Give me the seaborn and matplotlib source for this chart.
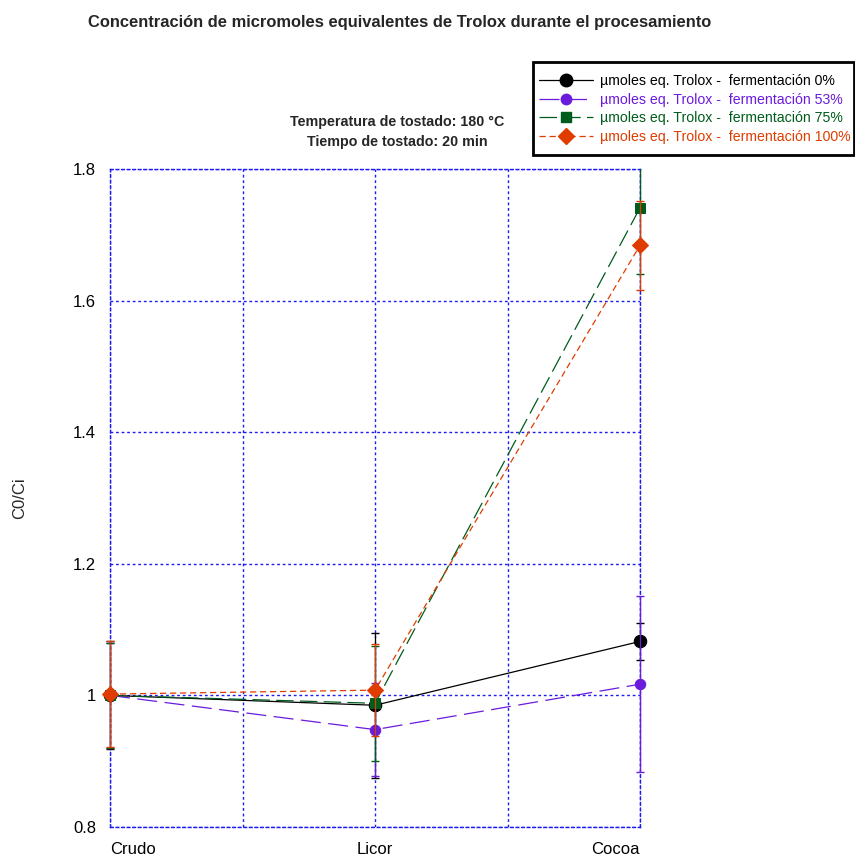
import matplotlib
matplotlib.use('Agg')
import matplotlib.pyplot as plt
import seaborn as sns
import pandas as pd
from matplotlib.lines import Line2D
from matplotlib.patches import Rectangle
from matplotlib.transforms import Bbox, TransformedBbox

# Process stages and measured C0/Ci values per fermentation level
stages = ["Crudo", "Licor", "Cocoa"]
series = ["µmoles eq. Trolox -  fermentación 0%",
          "µmoles eq. Trolox -  fermentación 53%",
          "µmoles eq. Trolox -  fermentación 75%",
          "µmoles eq. Trolox -  fermentación 100%"]
ferm_0 = [1.000, 0.985, 1.082]
ferm_53 = [1.000, 0.948, 1.017]
ferm_75 = [1.000, 0.988, 1.741]
ferm_100 = [1.002, 1.008, 1.684]
err_0 = [0.082, 0.11, 0.028]
err_53 = [0.08, 0.071, 0.134]
err_75 = [0.08, 0.087, 0.10]
err_100 = [0.08, 0.07, 0.068]

colors = ["#000000", "#6a1bdc", "#005c1c", "#e03c00"]
markers = ["o", "o", "s", "D"]
msizes = [9, 7.5, 7.5, 8]
dashes = ["", (16, 6), (14, 5), (5, 3)]

values = [ferm_0, ferm_53, ferm_75, ferm_100]
errors = [err_0, err_53, err_75, err_100]

rows = []
for name, vals, errs in zip(series, values, errors):
    for i, (st, v, e) in enumerate(zip(stages, vals, errs)):
        rows.append({"Serie": name, "Etapa": st, "pos": i, "C0/Ci": v, "err": e})
df = pd.DataFrame(rows)

sns.set_theme(style="white")
plt.rcParams['font.family'] = ['Liberation Sans', 'DejaVu Sans']

fig = plt.figure(figsize=(8.55, 8.57), dpi=100)
ax = fig.add_axes([110 / 855, 30 / 857, 530 / 855, 658 / 857])

# clip error bars only vertically (x = 0 and x = 2 lie on the frame)
clip = TransformedBbox(Bbox([[-0.05, 0], [1.05, 1]]), ax.transAxes)

for k, name in enumerate(series):
    sub = df[df["Serie"] == name]
    eb = ax.errorbar(sub["pos"], sub["C0/Ci"], yerr=sub["err"], fmt="none",
                     ecolor=colors[k], elinewidth=0.9, capsize=3, capthick=1,
                     zorder=3 + k)
    for art in eb.lines[1] + eb.lines[2]:
        art.set_clip_box(clip)
    sns.lineplot(data=sub, x="pos", y="C0/Ci", ax=ax, color=colors[k],
                 marker=markers[k], markersize=msizes[k], markeredgecolor=colors[k],
                 linewidth=0.9, dashes=False, legend=False, zorder=4 + k, clip_on=False)
    if dashes[k]:
        ax.lines[-1].set_dashes(dashes[k])

ax.set_xlim(0, 2)
ax.set_ylim(0.8, 1.8)
ax.set_xticks([0, 1, 2])
ax.set_xticklabels(stages)
for lab, ha in zip(ax.get_xticklabels(), ["left", "center", "right"]):
    lab.set_ha(ha)
ax.set_xticks([0.5, 1.5], minor=True)
ax.set_yticks([0.8, 1.0, 1.2, 1.4, 1.6, 1.8])
ax.set_yticklabels(["0.8", "1", "1.2", "1.4", "1.6", "1.8"])
ax.tick_params(axis="both", which="both", length=0, labelsize=12, colors="black")
ax.tick_params(axis="y", pad=10)
ax.tick_params(axis="x", pad=11)
ax.grid(True, which="both", color="#1c1cf0", linestyle=(0, (2, 2)), linewidth=1)
for s in ax.spines.values():
    s.set_color("#1c1cf0")
    s.set_linestyle((0, (2, 2)))
    s.set_linewidth(1)
ax.set_xlabel("")
ax.set_ylabel("C0/Ci", fontsize=12)
ax.yaxis.set_label_coords(-0.157, 0.5)

fig.text(88 / 855, 1 - 22 / 857, "Concentración de micromoles equivalentes de Trolox durante el procesamiento",
         fontsize=11.9, fontweight="bold", ha="left", va="center")
fig.text(397 / 855, 1 - 122 / 857, "Temperatura de tostado: 180 °C",
         fontsize=10.3, fontweight="bold", ha="center", va="center")
fig.text(397 / 855, 1 - 142 / 857, "Tiempo de tostado: 20 min",
         fontsize=10.3, fontweight="bold", ha="center", va="center")

handles = []
for k in range(4):
    h = Line2D([], [], color=colors[k], marker=markers[k], markersize=msizes[k],
               markeredgecolor=colors[k], linewidth=0.9)
    if dashes[k]:
        h.set_dashes(dashes[k])
    handles.append(h)
leg = fig.legend(handles, series, loc="upper right", bbox_to_anchor=(851 / 855, 1 - 74 / 857),
                 fontsize=10.2, frameon=False, handlelength=3.8,
                 borderpad=0, labelspacing=0.33, handletextpad=0.5, borderaxespad=0)
for t, c in zip(leg.get_texts(), colors):
    t.set_color(c)
fig.patches.append(Rectangle((533 / 855, 1 - 155 / 857), 321 / 855, 93 / 857,
                             transform=fig.transFigure, fill=False,
                             edgecolor="black", linewidth=2))

fig.savefig("out.png", dpi=100)
